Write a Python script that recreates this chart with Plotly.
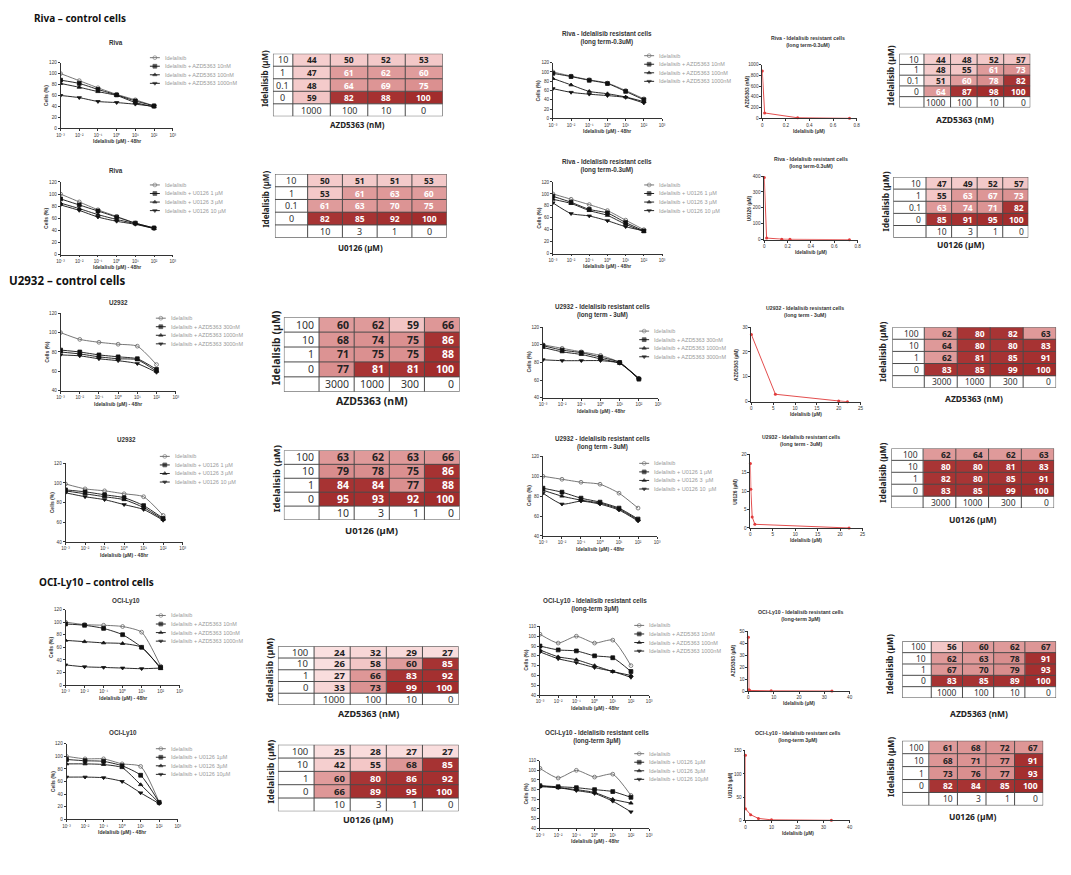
import plotly.graph_objects as go

W, H = 1071, 875

# ---------------- data ----------------
dose_um = [0.001, 0.01, 0.1, 1, 10, 100]
log_tickvals = [0.001, 0.01, 0.1, 1, 10, 100, 1000]
log_ticktext = ["10⁻³", "10⁻²", "10⁻¹", "10⁰", "10¹", "10²", "10³"]

labels_azd_10_1000 = ["Idelalisib", "Idelalisib + AZD5363 10nM", "Idelalisib + AZD5363 100nM", "Idelalisib + AZD5363 1000nM"]
labels_azd_300_3000 = ["Idelalisib", "Idelalisib + AZD5363 300nM", "Idelalisib + AZD5363 1000nM", "Idelalisib + AZD5363 3000nM"]
labels_u0126_sp = ["Idelalisib", "Idelalisib + U0126 1 µM", "Idelalisib + U0126 3 µM", "Idelalisib + U0126 10 µM"]
labels_u0126 = ["Idelalisib", "Idelalisib + U0126 1µM", "Idelalisib + U0126 3µM", "Idelalisib + U0126 10µM"]

# Cells (%) at dose_um, one list per series (Idelalisib alone, then + 3 combo doses)
riva_ctrl_azd = [[100, 87, 74, 62, 52, 41], [88, 82, 71, 61, 50, 41], [82, 75, 67, 60, 47, 39], [60, 56, 49, 47, 44, 40]]
riva_ctrl_u0126 = [[100, 87, 74, 63, 52, 44], [92, 82, 72, 62, 52, 44], [85, 76, 66, 58, 51, 43], [82, 73, 62, 55, 50, 43]]
u2932_ctrl_azd = [[100, 93, 90, 88, 86, 67], [82, 80, 77, 75, 73, 62], [80, 78, 75, 73, 72, 60], [77, 76, 73, 71, 68, 59]]
u2932_ctrl_u0126 = [[99, 94, 92, 89, 86, 67], [93, 91, 88, 85, 77, 64], [92, 89, 86, 83, 75, 63], [90, 86, 83, 78, 73, 62]]
oci_ctrl_azd = [[100, 96, 95, 93, 84, 30], [97, 95, 90, 80, 60, 28], [71, 69, 67, 66, 60, 26], [32, 29, 28, 27, 26, 27]]
oci_ctrl_u0126 = [[100, 96, 96, 88, 84, 27], [95, 93, 92, 85, 70, 27], [88, 88, 87, 82, 55, 26], [67, 67, 66, 60, 42, 25]]
riva_res_azd = [[100, 91, 83, 76, 60, 42], [97, 90, 82, 75, 58, 40], [86, 72, 58, 53, 46, 36], [64, 56, 52, 49, 45, 33]]
riva_res_u0126 = [[100, 91, 82, 72, 56, 40], [96, 86, 74, 68, 52, 38], [91, 84, 72, 64, 49, 37], [85, 67, 63, 55, 45, 38]]
u2932_res_azd = [[100, 96, 92, 88, 80, 62], [99, 94, 91, 86, 80, 61], [97, 92, 89, 84, 79, 62], [83, 82, 82, 82, 79, 61]]
u2932_res_u0126 = [[100, 97, 94, 92, 83, 68], [88, 84, 78, 74, 68, 57], [86, 80, 76, 73, 67, 56], [83, 72, 75, 72, 66, 55]]
oci_res_azd = [[102, 93, 100, 93, 96, 70], [90, 86, 85, 80, 78, 64], [86, 79, 76, 70, 64, 60], [84, 77, 73, 68, 64, 58]]
oci_res_u0126 = [[102, 92, 100, 93, 96, 74], [84, 83, 82, 80, 78, 72], [84, 82, 80, 77, 70, 66], [83, 82, 79, 76, 68, 57]]

# Isobolograms
riva_iso_azd_x = [0, 0.02, 0.3, 0.74]
riva_iso_azd_y = [880, 100, 10, 0]
riva_iso_u0126_x = [0, 0.02, 0.15, 0.22, 0.73]
riva_iso_u0126_y = [390, 10, 3, 2, 0]
u2932_iso_azd_x = [0, 5.5, 20, 22]
u2932_iso_azd_y = [27, 3, 0.3, 0]
u2932_iso_u0126_x = [0, 0.1, 0.4, 1.0, 22]
u2932_iso_u0126_y = [17.5, 10.5, 3, 1, 0]
oci_iso_azd_x = [0, 0.2, 0.5, 9, 33]
oci_iso_azd_y = [45, 1, 0.5, 0.2, 0]
oci_iso_u0126_x = [0, 0, 2, 5, 10, 33]
oci_iso_u0126_y = [140, 25, 12, 4, 1, 0]

# Combination tables (Cells %), rows = Idelalisib dose, cols = second drug dose
ide_rows_riva = ["10", "1", "0.1", "0"]
ide_rows = ["100", "10", "1", "0"]
azd_cols_nm = ["1000", "100", "10", "0"]
azd_cols_u2932 = ["3000", "1000", "300", "0"]
u0126_cols = ["10", "3", "1", "0"]

tab_riva_ctrl_azd = [[44, 50, 52, 53], [47, 61, 62, 60], [48, 64, 69, 75], [59, 82, 88, 100]]
tab_riva_ctrl_u0126 = [[50, 51, 51, 53], [53, 61, 63, 60], [61, 63, 70, 75], [82, 85, 92, 100]]
tab_u2932_ctrl_azd = [[60, 62, 59, 66], [68, 74, 75, 86], [71, 75, 75, 88], [77, 81, 81, 100]]
tab_u2932_ctrl_u0126 = [[63, 62, 63, 66], [79, 78, 75, 86], [84, 84, 77, 88], [95, 93, 92, 100]]
tab_oci_ctrl_azd = [[24, 32, 29, 27], [26, 58, 60, 85], [27, 66, 83, 92], [33, 73, 99, 100]]
tab_oci_ctrl_u0126 = [[25, 28, 27, 27], [42, 55, 68, 85], [60, 80, 86, 92], [66, 89, 95, 100]]
tab_riva_res_azd = [[44, 48, 52, 57], [48, 55, 61, 73], [51, 60, 78, 82], [64, 87, 98, 100]]
tab_riva_res_u0126 = [[47, 49, 52, 57], [55, 63, 67, 73], [63, 74, 71, 82], [85, 91, 95, 100]]
tab_u2932_res_azd = [[62, 80, 82, 63], [64, 80, 80, 83], [62, 81, 85, 91], [83, 85, 99, 100]]
tab_u2932_res_u0126 = [[62, 64, 62, 63], [80, 80, 81, 83], [82, 80, 85, 91], [83, 85, 99, 100]]
tab_oci_res_azd = [[56, 60, 62, 67], [62, 63, 78, 91], [67, 70, 79, 93], [83, 85, 89, 100]]
tab_oci_res_u0126 = [[61, 68, 72, 67], [68, 71, 77, 91], [73, 76, 77, 93], [82, 84, 85, 100]]

# ---------------- styling / layout ----------------
FONT = "Liberation Sans"
TFONT = "Noto Sans"
SERIES_STYLE = [("#666666", "circle-open"), ("#111111", "square"), ("#111111", "triangle-up"), ("#111111", "triangle-down")]
CS = [[0.0, "#FBE5E5"], [0.2, "#F6D2D2"], [0.49, "#F2C5C5"], [0.495, "#E09C9C"],
      [0.74, "#D98D8D"], [0.745, "#A83535"], [1.0, "#A22C2C"]]

T_RIVA = "Riva - Idelalisib resistant cells<br>(long term-0.3uM)"
T_U2932 = "U2932 - Idelalisib resistant cells<br>(long term - 3uM)"
T_OCI = "OCI-Ly10 - Idelalisib resistant cells<br>(long-term 3µM)"

curve_specs = [
    dict(vals=riva_ctrl_azd, labels=labels_azd_10_1000, title="Riva", box=(57, 170, 61, 127), yr=[0, 120], ystep=20, tpos=(113, 41), leg=(147, 56)),
    dict(vals=riva_ctrl_u0126, labels=labels_u0126_sp, title="Riva", box=(57, 170, 181, 254), yr=[0, 120], ystep=20, tpos=(113, 169), leg=(147, 184)),
    dict(vals=u2932_ctrl_azd, labels=labels_azd_300_3000, title="U2932", box=(57, 173, 313, 391), yr=[40, 120], ystep=20, tpos=(115, 302), leg=(153, 318)),
    dict(vals=u2932_ctrl_u0126, labels=labels_u0126_sp, title="U2932", box=(62, 180, 464, 543), yr=[40, 120], ystep=20, tpos=(123, 440), leg=(157, 457)),
    dict(vals=oci_ctrl_azd, labels=labels_azd_10_1000, title="OCI-Ly10", box=(62, 177, 611, 687), yr=[0, 120], ystep=20, tpos=(123, 602), leg=(153, 617)),
    dict(vals=oci_ctrl_u0126, labels=labels_u0126, title="OCI-Ly10", box=(63, 175, 746, 822), yr=[0, 120], ystep=20, tpos=(120, 735), leg=(153, 751)),
    dict(vals=riva_res_azd, labels=labels_azd_10_1000, title=T_RIVA, box=(553, 663, 61, 117), yr=[0, 120], ystep=20, tpos=(608, 36), leg=(645, 54)),
    dict(vals=riva_res_u0126, labels=labels_u0126_sp, title=T_RIVA, box=(553, 663, 181, 253), yr=[0, 120], ystep=20, tpos=(608, 165), leg=(645, 184)),
    dict(vals=u2932_res_azd, labels=labels_azd_300_3000, title=T_U2932, box=(543, 659, 327, 398), yr=[40, 120], ystep=20, tpos=(603, 311), leg=(640, 331)),
    dict(vals=u2932_res_u0126, labels=["Idelalisib", "Idelalisib + U0126 1 µM", "Idelalisib + U0126 3  µM", "Idelalisib + U0126 10  µM"], title=T_U2932, box=(543, 658, 457, 537), yr=[40, 120], ystep=20, tpos=(603, 444), leg=(640, 464)),
    dict(vals=oci_res_azd, labels=labels_azd_10_1000, title=T_OCI, box=(540, 650, 628, 697), yr=[40, 110], ystep=10, tpos=(595, 606), leg=(635, 627)),
    dict(vals=oci_res_u0126, labels=labels_u0126, title=T_OCI, box=(540, 650, 763, 831), yr=[40, 110], ystep=10, tpos=(597, 739), leg=(635, 756)),
]

iso_specs = [
    dict(x=riva_iso_azd_x, y=riva_iso_azd_y, title=T_RIVA, box=(764, 859, 63, 117), xr=[0, 0.8], xstep=0.2, yr=[0, 1000], ystep=200, ylab="AZD5363 (nM)", tpos=(810, 40)),
    dict(x=riva_iso_u0126_x, y=riva_iso_u0126_y, title=T_RIVA, box=(766, 860, 175, 239), xr=[0, 0.8], xstep=0.2, yr=[0, 400], ystep=100, ylab="U0126 (µM)", tpos=(813, 161)),
    dict(x=u2932_iso_azd_x, y=u2932_iso_azd_y, title=T_U2932, box=(753, 863, 327, 402), xr=[0, 25], xstep=5, yr=[0, 30], ystep=10, ylab="AZD5363 (µM)", tpos=(807, 311)),
    dict(x=u2932_iso_u0126_x, y=u2932_iso_u0126_y, title=T_U2932, box=(752, 865, 455, 529), xr=[0, 25], xstep=5, yr=[0, 20], ystep=5, ylab="U0126 (µM)", tpos=(803, 441)),
    dict(x=oci_iso_azd_x, y=oci_iso_azd_y, title=T_OCI, box=(750, 852, 633, 693), xr=[0, 40], xstep=10, yr=[0, 50], ystep=10, ylab="AZD5363 (µM)", tpos=(803, 617)),
    dict(x=oci_iso_u0126_x, y=oci_iso_u0126_y, title=T_OCI, box=(747, 852, 753, 823), xr=[0, 40], xstep=10, yr=[0, 150], ystep=50, ylab="U0126 (µM)", tpos=(800, 739)),
]

table_specs = [
    dict(rows=ide_rows_riva, cols=azd_cols_nm, grid=tab_riva_ctrl_azd, xlab="AZD5363 (nM)", box=(271, 442, 52, 115), fw=0.53, align="center", fs=(9, 8.5, 8), thr=60, xl_y=123, yl_x=263),
    dict(rows=ide_rows_riva, cols=u0126_cols, grid=tab_riva_ctrl_u0126, xlab="U0126 (µM)", box=(273, 446, 173, 237), fw=0.94, align="center", fs=(9, 8.5, 8), thr=60, xl_y=247, yl_x=263),
    dict(rows=ide_rows, cols=azd_cols_u2932, grid=tab_u2932_ctrl_azd, xlab="AZD5363 (nM)", box=(282, 459, 317, 392), fw=1.0, align="right", fs=(10.5, 10.5, 10.5), thr=80, xl_y=401, yl_x=274),
    dict(rows=ide_rows, cols=u0126_cols, grid=tab_u2932_ctrl_u0126, xlab="U0126 (µM)", box=(282, 459, 451, 521), fw=1.0, align="right", fs=(10.5, 10.5, 9.5), thr=80, xl_y=532, yl_x=274),
    dict(rows=ide_rows, cols=azd_cols_nm, grid=tab_oci_ctrl_azd, xlab="AZD5363 (nM)", box=(276, 458, 648, 707), fw=1.0, align="right", fs=(9.5, 9.5, 9), thr=80, xl_y=716, yl_x=268),
    dict(rows=ide_rows, cols=u0126_cols, grid=tab_oci_ctrl_u0126, xlab="U0126 (µM)", box=(276, 458, 747, 814), fw=1.0, align="right", fs=(9.5, 9.5, 9), thr=80, xl_y=822, yl_x=268),
    dict(rows=ide_rows_riva, cols=azd_cols_nm, grid=tab_riva_res_azd, xlab="AZD5363 (nM)", box=(902, 1034, 52, 106), fw=0.93, align="right", fs=(8.5, 8.5, 8.5), thr=60, xl_y=118, yl_x=893),
    dict(rows=ide_rows_riva, cols=u0126_cols, grid=tab_riva_res_u0126, xlab="U0126 (µM)", box=(896, 1032, 176, 237), fw=1.28, align="right", fs=(8.5, 8.5, 8.5), thr=60, xl_y=244, yl_x=888),
    dict(rows=ide_rows, cols=azd_cols_u2932, grid=tab_u2932_res_azd, xlab="AZD5363 (nM)", box=(895, 1060, 327, 388), fw=0.97, align="right", fs=(8.5, 8.5, 8.5), thr=80, xl_y=399, yl_x=885),
    dict(rows=ide_rows, cols=azd_cols_u2932, grid=tab_u2932_res_u0126, xlab="U0126 (µM)", box=(894, 1058, 449, 509), fw=0.97, align="right", fs=(8.5, 8.5, 8.5), thr=80, xl_y=520, yl_x=885),
    dict(rows=ide_rows, cols=azd_cols_nm, grid=tab_oci_res_azd, xlab="AZD5363 (nM)", box=(905, 1060, 643, 700), fw=0.93, align="right", fs=(8.5, 8.5, 8.5), thr=80, xl_y=716, yl_x=893),
    dict(rows=ide_rows, cols=u0126_cols, grid=tab_oci_res_u0126, xlab="U0126 (µM)", box=(905, 1047, 743, 808), fw=0.93, align="right", fs=(8.5, 8.5, 8.5), thr=80, xl_y=819, yl_x=893),
]

section_titles = [("Riva – control cells", 28, 16, 10), ("U2932 – control cells", 3, 280, 11.5), ("OCI-Ly10 – control cells", 33, 583, 10)]

# ---------------- build ----------------
fig = go.Figure()
layout = {}
ann = []
k_counter = [0]


def new_axes(box):
    k_counter[0] += 1
    k = k_counter[0]
    x0, x1, y0, y1 = box
    layout[f"xaxis{k}"] = dict(domain=[x0 / W, x1 / W], anchor=f"y{k}")
    layout[f"yaxis{k}"] = dict(domain=[1 - y1 / H, 1 - y0 / H], anchor=f"x{k}")
    return k


def note(text, x, y, size, color="#222", bold=False, xanchor="center", yanchor="middle", angle=0, family=FONT):
    ann.append(dict(text=f"<b>{text}</b>" if bold else text, x=x / W, y=1 - y / H, xref="paper", yref="paper",
                    showarrow=False, font=dict(size=size, color=color, family=family),
                    xanchor=xanchor, yanchor=yanchor, textangle=angle))


AX = dict(showline=True, linecolor="#333", linewidth=0.8, ticks="outside", ticklen=2, tickwidth=0.8,
          tickcolor="#333", showgrid=False, zeroline=False, tickfont=dict(size=4.6, color="#333", family=FONT))

legend_keys = []

for s in curve_specs:
    k = new_axes(s["box"])
    x0, x1, y0, y1 = s["box"]
    for vals, (col, sym) in zip(s["vals"], SERIES_STYLE):
        fig.add_trace(go.Scatter(x=dose_um, y=vals, mode="lines+markers", xaxis=f"x{k}", yaxis=f"y{k}",
                                 line=dict(shape="spline", smoothing=0.6, width=0.9, color=col),
                                 marker=dict(symbol=sym, size=3.8, color=col, line=dict(width=0.8, color=col)),
                                 showlegend=False, hoverinfo="skip"))
    layout[f"xaxis{k}"].update(type="log", range=[-3, 3], tickvals=log_tickvals, ticktext=log_ticktext, **AX)
    layout[f"yaxis{k}"].update(range=s["yr"], tickvals=list(range(s["yr"][0], s["yr"][1] + 1, s["ystep"])), **AX)
    note(s["title"], s["tpos"][0], s["tpos"][1], 6.3, color="#333", bold=True)
    note("Idelalisib (µM) - 48hr", (x0 + x1) / 2, y1 + 13, 5, color="#333", bold=True)
    note("Cells (%)", x0 - 14, (y0 + y1) / 2, 5, color="#333", bold=True, angle=-90)
    lx, ly = s["leg"]
    for i, lab in enumerate(s["labels"]):
        legend_keys.append((lx, ly + i * 8.6, SERIES_STYLE[i]))
        note(lab, lx + 13, ly + i * 8.6, 5.5, color="#999", xanchor="left")

for s in iso_specs:
    k = new_axes(s["box"])
    x0, x1, y0, y1 = s["box"]
    fig.add_trace(go.Scatter(x=s["x"], y=s["y"], mode="lines+markers", xaxis=f"x{k}", yaxis=f"y{k}",
                             line=dict(width=0.9, color="#E03A3A"), marker=dict(size=3, color="#E03A3A"),
                             showlegend=False, hoverinfo="skip", cliponaxis=False))
    nx = round((s["xr"][1] - s["xr"][0]) / s["xstep"])
    layout[f"xaxis{k}"].update(range=s["xr"], tickvals=[round(s["xr"][0] + i * s["xstep"], 3) for i in range(nx + 1)], **AX)
    layout[f"yaxis{k}"].update(range=s["yr"], tickvals=list(range(s["yr"][0], s["yr"][1] + 1, s["ystep"])), **AX)
    note(s["title"], s["tpos"][0], s["tpos"][1], 5.2, color="#333", bold=True)
    note("Idelalisib (µM)", (x0 + x1) / 2, y1 + 13, 4.8, color="#333", bold=True)
    note(s["ylab"], x0 - 15, (y0 + y1) / 2, 4.8, color="#333", bold=True, angle=-90)

for s in table_specs:
    k = new_axes(s["box"])
    x0, x1, y0, y1 = s["box"]
    fw = s["fw"]
    xedges = [0, fw] + [fw + i for i in range(1, 5)]
    yedges = list(range(6))
    z = [[None] + list(r) for r in s["grid"]] + [[None] * 5]
    fig.add_trace(go.Heatmap(z=z, x=xedges, y=yedges, colorscale=CS, zmin=20, zmax=100, showscale=False,
                             hoverinfo="skip", xaxis=f"x{k}", yaxis=f"y{k}"))
    gx, gy = [], []
    for xe in xedges:
        gx += [xe, xe, None]
        gy += [0, 5, None]
    for ye in yedges:
        gx += [0, xedges[-1], None]
        gy += [ye, ye, None]
    fig.add_trace(go.Scatter(x=gx, y=gy, mode="lines", line=dict(color="#4A4A4A", width=1), xaxis=f"x{k}", yaxis=f"y{k}",
                             showlegend=False, hoverinfo="skip", cliponaxis=False))
    layout[f"xaxis{k}"].update(range=[0, xedges[-1]], visible=False)
    layout[f"yaxis{k}"].update(range=[5, 0], visible=False)
    fl, fd, fa = s["fs"]

    def cell_x(ci):
        left, right = xedges[ci], xedges[ci + 1]
        if s["align"] == "center":
            return (left + right) / 2, "center"
        return right - 0.1, "right"

    for ri, lab in enumerate(s["rows"]):
        cx, xa = cell_x(0)
        ann.append(dict(text=lab, x=cx, y=ri + 0.5, xref=f"x{k}", yref=f"y{k}", showarrow=False, xanchor=xa,
                        font=dict(size=fl, color="#333", family=TFONT)))
        for ci, v in enumerate(s["grid"][ri]):
            cx, xa = cell_x(ci + 1)
            ann.append(dict(text=f"<b>{v}</b>", x=cx, y=ri + 0.5, xref=f"x{k}", yref=f"y{k}", showarrow=False,
                            xanchor=xa, font=dict(size=fd, color="#FFFFFF" if v >= s["thr"] else "#222", family=TFONT)))
    for ci, lab in enumerate(s["cols"]):
        cx, xa = cell_x(ci + 1)
        ann.append(dict(text=lab, x=cx, y=4.5, xref=f"x{k}", yref=f"y{k}", showarrow=False, xanchor=xa,
                        font=dict(size=fl, color="#333", family=TFONT)))
    note(s["xlab"], (x0 + x1) / 2, s["xl_y"], fa, color="#222", bold=True, family=TFONT)
    note("Idelalisib (µM)", s["yl_x"], y0 + (y1 - y0) * 0.4, fa, color="#222", bold=True, angle=-90, family=TFONT)

# legend keys drawn on a full-page pixel overlay
k = new_axes((0, W, 0, H))
layout[f"xaxis{k}"].update(range=[0, W], visible=False)
layout[f"yaxis{k}"].update(range=[H, 0], visible=False)
for lx, ly, (col, sym) in legend_keys:
    fig.add_trace(go.Scatter(x=[lx, lx + 5, lx + 10], y=[ly, ly, ly], mode="lines+markers", xaxis=f"x{k}", yaxis=f"y{k}",
                             line=dict(color=col, width=0.9),
                             marker=dict(symbol=sym, size=[0, 3.8, 0], color=col, line=dict(width=0.8, color=col)),
                             showlegend=False, hoverinfo="skip"))

for text, x, y, size in section_titles:
    note(text, x, y, size, color="#111", bold=True, xanchor="left", family=TFONT)

fig.update_layout(width=W, height=H, margin=dict(l=0, r=0, t=0, b=0), paper_bgcolor="white",
                  plot_bgcolor="rgba(0,0,0,0)", showlegend=False, annotations=ann, **layout)

fig.write_html("out.html", config={"displayModeBar": False},
               post_script="document.body.style.margin='0';document.body.style.overflow='hidden';")
